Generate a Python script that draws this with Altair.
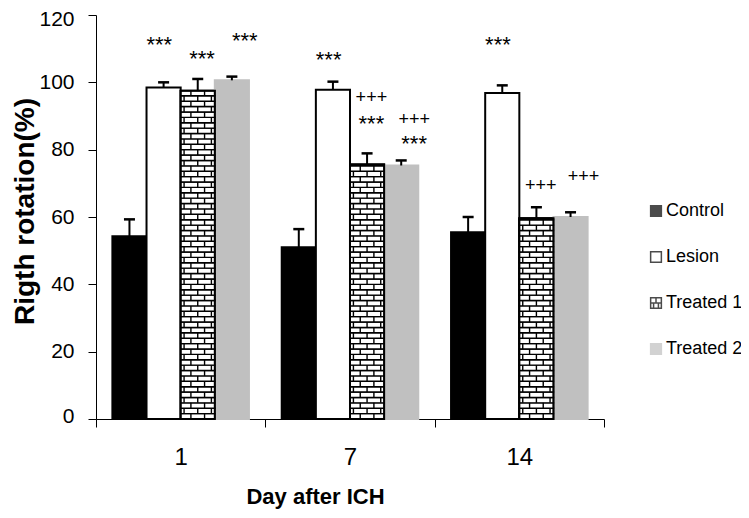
import altair as alt
import pandas as pd

# ---------------- data ----------------
days = ["1", "7", "14"]
groups = ["Control", "Lesion", "Treated 1", "Treated 2"]

control_mean = [54.3, 51.0, 55.5]
control_err = [5.0, 5.4, 4.5]
lesion_mean = [98.5, 97.8, 96.8]
lesion_err = [1.5, 2.4, 2.3]
treated1_mean = [97.5, 75.6, 59.6]
treated1_err = [3.5, 3.3, 3.3]
treated2_mean = [100.6, 75.3, 60.0]
treated2_err = [1.1, 1.5, 1.4]

y_ticks = [0, 20, 40, 60, 80, 100, 120]

ann_day = ["1", "1", "1", "7", "7", "7", "7", "7", "14", "14", "14"]
ann_group = ["Lesion", "Treated 1", "Treated 2", "Lesion", "Treated 1", "Treated 1",
             "Treated 2", "Treated 2", "Lesion", "Treated 1", "Treated 2"]
ann_text = ["***", "***", "***", "***", "+++", "***", "+++", "***", "***", "+++", "+++"]
ann_y = [108.9, 104.8, 110.1, 104.5, 94.0, 85.5, 87.2, 79.5, 108.9, 67.6, 70.3]

# ---------------- styles ----------------
fills = ["#000000", "#ffffff", "#ffffff", "#c0c0c0"]
strokes = ["#000000", "#000000", "#000000", "#c0c0c0"]
brick_legend = ("M-1,-1L1,-1L1,1L-1,1Z M-1,0L1,0 M0,-1L0,0 "
                "M-0.45,0L-0.45,1 M0.45,0L0.45,1")
shapes = ["square", "square", brick_legend, "square"]
FONT = "Liberation Sans, Arial, sans-serif"

means = {"Control": control_mean, "Lesion": lesion_mean,
         "Treated 1": treated1_mean, "Treated 2": treated2_mean}
errs = {"Control": control_err, "Lesion": lesion_err,
        "Treated 1": treated1_err, "Treated 2": treated2_err}

rows = []
for di, d in enumerate(days):
    for g in groups:
        m = means[g][di]
        e = errs[g][di]
        rows.append({"day": d, "group": g, "mean": m, "top": m + e})
df = pd.DataFrame(rows)

# brick pattern of the "Treated 1" bars, derived from their values
row_h = 1.6
brick_rows, joints = [], []
for di, d in enumerate(days):
    m = treated1_mean[di]
    r = 0
    while r * row_h < m - 0.3:
        y0 = r * row_h
        y1 = min((r + 1) * row_h, m)
        brick_rows.append({"day": d, "group": "Treated 1", "y0": y0, "y1": y1})
        cols = [11, 13] if r % 2 == 0 else [10, 12, 14]
        for c in cols:
            joints.append({"day": d, "col": c, "y0": y0, "y1": y1})
        r += 1
bricks_df = pd.DataFrame(brick_rows)
joints_df = pd.DataFrame(joints)

ann_df = pd.DataFrame({"day": ann_day, "group": ann_group, "text": ann_text, "y": ann_y})

# ---------------- shared encodings ----------------
x_scale = alt.Scale(domain=days, paddingInner=0, paddingOuter=0)
x_axis = alt.Axis(tickBand="extent", tickSize=8, labelAngle=0,
                  labelFont=FONT, labelFontSize=24, labelPadding=18,
                  titleFont=FONT, titleFontSize=22, titleFontWeight="bold",
                  titleX=219, titleY=84, titleBaseline="alphabetic", titleAlign="center")
X_TITLE = "Day after ICH"
x_enc = alt.X("day:N", sort=days, scale=x_scale, axis=x_axis, title=X_TITLE)
xoff = alt.XOffset("group:N", scale=alt.Scale(domain=groups, paddingInner=0, paddingOuter=0.48))

y_scale = alt.Scale(domain=[0, 120], nice=False)
y_axis = alt.Axis(values=y_ticks, tickSize=8, labelFont=FONT, labelFontSize=21,
                  labelPadding=14, labelFlush=True, labelFlushOffset=7,
                  titleFont=FONT, titleFontSize=28,
                  titleFontWeight="bold", titleX=-63, titleY=196, titleAngle=270,
                  titleAlign="center", titleBaseline="alphabetic")
Y_TITLE = "Rigth rotation(%)"


def y_enc(field):
    return alt.Y(field, scale=y_scale, axis=y_axis, title=Y_TITLE)


legend = alt.Legend(orient="none", legendX=551, legendY=187, title=None,
                    labelFont=FONT, labelFontSize=18, labelColor="black",
                    rowPadding=28, symbolSize=115, symbolStrokeWidth=1.5,
                    labelOffset=1, direction="vertical", labelLimit=200)
fill_enc = alt.Fill("group:N", scale=alt.Scale(domain=groups, range=fills),
                    legend=legend, title=None)
stroke_enc = alt.Stroke("group:N", scale=alt.Scale(domain=groups, range=strokes),
                        legend=legend, title=None)
shape_enc = alt.Shape("group:N", scale=alt.Scale(domain=groups, range=shapes),
                      legend=legend, title=None)

bars = alt.Chart(df).mark_bar(strokeWidth=2).encode(
    x=x_enc, xOffset=xoff, y=y_enc("mean:Q"), fill=fill_enc, stroke=stroke_enc,
)

brick_layer = alt.Chart(bricks_df).mark_bar(fill="white", stroke="black", strokeWidth=1.4).encode(
    x=x_enc, xOffset=xoff, y=y_enc("y0:Q"), y2="y1:Q",
)

joint_layer = alt.Chart(joints_df).mark_rule(color="black", strokeWidth=1.4).encode(
    x=x_enc,
    xOffset=alt.XOffset("col:N", scale=alt.Scale(domain=list(range(-2, 22)), paddingInner=0,
                                                 paddingOuter=0.4)),
    y=y_enc("y0:Q"), y2="y1:Q",
)

outline = alt.Chart(df).transform_filter("datum.group == 'Treated 1'").mark_bar(
    fillOpacity=0, stroke="black", strokeWidth=2).encode(
    x=x_enc, xOffset=xoff, y=y_enc("mean:Q"),
)

stems = alt.Chart(df).mark_rule(color="black", strokeWidth=2).encode(
    x=x_enc, xOffset=xoff, y=y_enc("mean:Q"), y2="top:Q",
)

caps = alt.Chart(df).mark_tick(color="black", thickness=2.5, size=11, opacity=1).encode(
    x=x_enc, xOffset=xoff, y=y_enc("top:Q"),
)

ann = alt.Chart(ann_df).mark_text(font=FONT, baseline="alphabetic",
                                  align="center", color="black").encode(
    x=x_enc, xOffset=xoff, y=y_enc("y:Q"), text="text:N",
    size=alt.condition("datum.text == '+++'", alt.value(18), alt.value(22)),
)

legend_pts = alt.Chart(df).transform_filter("datum.group == 'none'").mark_point(
    filled=True, size=115, strokeWidth=1.5).encode(
    x=x_enc, xOffset=xoff, y=y_enc("mean:Q"),
    fill=fill_enc, stroke=stroke_enc, shape=shape_enc,
)

chart = alt.layer(bars, brick_layer, joint_layer, outline, stems, caps, ann, legend_pts
                  ).resolve_scale(xOffset="independent").properties(
    width=508, height=404,
    autosize=alt.AutoSizeParams(type="none"),
    padding={"left": 88, "top": 7, "right": 137, "bottom": 91},
).configure_view(stroke=None).configure_axis(
    domainColor="black", tickColor="black", labelColor="black", titleColor="black",
    grid=False, domainWidth=1, tickWidth=1,
)

chart.save("out.html", embed_options={"renderer": "svg", "actions": False})
